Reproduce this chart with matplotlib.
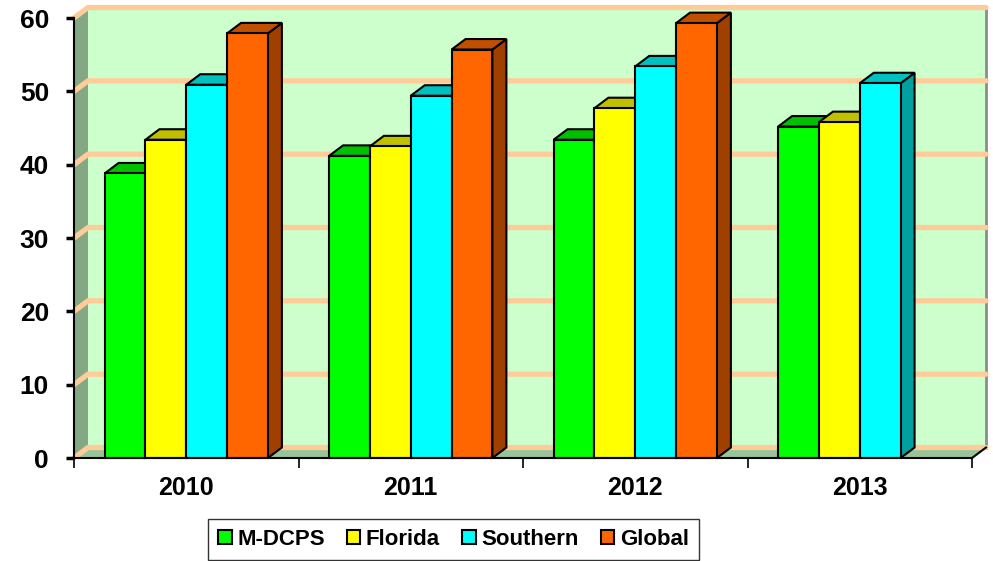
import matplotlib
matplotlib.use("Agg")
import matplotlib.pyplot as plt
from matplotlib.patches import Polygon, Patch

categories = ["2010", "2011", "2012", "2013"]
series_names = ["M-DCPS", "Florida", "Southern", "Global"]
mdcps = [38.8, 41.2, 43.4, 45.2]
florida = [43.4, 42.5, 47.7, 45.8]
southern = [50.9, 49.4, 53.4, 51.1]
global_ = [57.9, 55.7, 59.3, None]
yticks = [0, 10, 20, 30, 40, 50, 60]

front_colors = ["#00FF00", "#FFFF00", "#00FFFF", "#FF6600"]
top_colors = ["#00C000", "#C0C000", "#00C0C0", "#C05000"]
side_colors = ["#00A000", "#A0A000", "#00A0A0", "#A04000"]

plt.rcParams['font.family'] = ['Liberation Sans', 'DejaVu Sans']
plt.rcParams['font.weight'] = 'bold'

fig = plt.figure(figsize=(9.93, 5.61), dpi=100)
W, H = 993, 561
ax = fig.add_axes([74 / W, (H - 458) / H, 898 / W, 440 / H])
ncat = len(categories)
ymax = 60
ax.set_xlim(0, ncat)
ax.set_ylim(0, ymax)
ax.patch.set_visible(False)

px_x = 898 / ncat   # pixels per category
px_y = 440 / ymax   # pixels per unit
dx = 14 / px_x
dy = 10.5 / px_y

# walls
ax.add_patch(Polygon([(dx, dy), (ncat + dx, dy), (ncat + dx, ymax + dy), (dx, ymax + dy)],
                     closed=True, facecolor="#CCFFCC", edgecolor="none", zorder=0, clip_on=False))
ax.add_patch(Polygon([(0, 0), (0, ymax), (dx, ymax + dy), (dx, dy)],
                     closed=True, facecolor="#84A884", edgecolor="none", zorder=0.1, clip_on=False))
ax.add_patch(Polygon([(0, 0), (ncat, 0), (ncat + dx, dy), (dx, dy)],
                     closed=True, facecolor="#98C498", edgecolor="none", zorder=0.1, clip_on=False))
# gridlines
for v in yticks:
    ax.plot([0, dx, ncat + dx], [v, v + dy, v + dy], color="#FFCC99", lw=3.8,
            solid_capstyle="round", zorder=0.5, clip_on=False)
# right edge of back wall
ax.plot([ncat + dx, ncat + dx], [dy, ymax + dy - 0.3], color="#8C8C8C", lw=2, zorder=0.4, clip_on=False)
# floor right edge
ax.plot([ncat, ncat + dx], [0, dy], color="black", lw=1.5, zorder=0.6, clip_on=False)

# bars
all_series = [mdcps, florida, southern, global_]
nser = len(all_series)
gap = 1.5
bw = 1.0 / (nser + gap)
z = 2.0
for i in range(ncat):
    for j, vals in enumerate(all_series):
        v = vals[i]
        if v is None:
            continue
        x0 = i + gap * bw / 2 + j * bw
        side = Polygon([(x0 + bw, 0), (x0 + bw, v), (x0 + bw + dx, v + dy), (x0 + bw + dx, dy)],
                       closed=True, facecolor=side_colors[j], edgecolor="black", lw=1.5,
                       zorder=z, clip_on=False)
        top = Polygon([(x0, v), (x0 + bw, v), (x0 + bw + dx, v + dy), (x0 + dx, v + dy)],
                      closed=True, facecolor=top_colors[j], edgecolor="black", lw=1.5,
                      zorder=z, clip_on=False)
        ax.add_patch(side)
        ax.add_patch(top)
        ax.bar([x0], [v], width=bw, align="edge", color=front_colors[j],
               edgecolor="black", linewidth=1.5, zorder=z + 0.005, clip_on=False)
        z += 0.01

# spines and ticks
for s in ["top", "right"]:
    ax.spines[s].set_visible(False)
ax.spines["left"].set_linewidth(1.5)
ax.spines["bottom"].set_linewidth(1.5)
ax.spines["left"].set_zorder(5)
ax.spines["bottom"].set_zorder(5)
ax.set_yticks(yticks)
ax.set_yticklabels([str(t) for t in yticks], fontsize=19, fontweight="bold")
ax.tick_params(axis="y", direction="out", length=6, width=2.5, pad=12)
ax.set_xticks(range(ncat + 1))
ax.set_xticklabels([])
ax.tick_params(axis="x", which="major", direction="out", length=7, width=1.2)
ax.set_xticks([k + 0.5 for k in range(ncat)], minor=True)
ax.set_xticklabels(categories, minor=True, fontsize=18, fontweight="bold")
ax.tick_params(axis="x", which="minor", length=0, pad=13)

handles = [Patch(facecolor=c, edgecolor="black", lw=1.5) for c in front_colors]
leg = fig.legend(handles, series_names, loc="upper center", ncol=4,
                 bbox_to_anchor=(453.5 / W, 1 - 519 / H),
                 prop={"size": 16, "weight": "bold"}, frameon=True, fancybox=False,
                 handlelength=0.6, handleheight=0.6, handletextpad=0.25,
                 columnspacing=1.0, borderpad=0.45, borderaxespad=0)
leg.get_frame().set_edgecolor("black")
leg.get_frame().set_linewidth(1.0)

fig.savefig("out.png", dpi=100)
